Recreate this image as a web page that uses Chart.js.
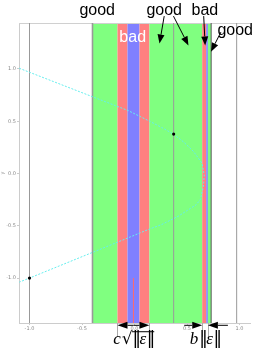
<!DOCTYPE html>
<html><head><meta charset="utf-8">
<script src="https://cdn.jsdelivr.net/npm/chart.js@4/dist/chart.umd.min.js"></script>
<style>html,body{margin:0;padding:0;background:#fff;overflow:hidden}#wrap{width:256px;height:354px;position:relative}</style>
</head><body><div id="wrap"><canvas id="c" width="256" height="354"></canvas></div>
<script>
// ---- data ----
const xTicks = [-1.0, -0.5, 0.0, 0.5, 1.0];
const yTicks = [-1.0, -0.5, 0.0, 0.5, 1.0];
const bandStart = [-0.40, -0.162, -0.067, 0.048, 0.142, 0.645, 0.683, 0.699];
const bandEnd   = [-0.162, -0.067, 0.048, 0.142, 0.645, 0.683, 0.699, 0.730];
const bandKind  = ['good', 'bad', 'core', 'bad', 'good', 'bad', 'core', 'good'];
const vLineX = [-1.0, -0.40, 0.373, 0.730, 0.973];
const curveX = [-1.098, -0.396, -0.06, 0.15, 0.26, 0.371, 0.47, 0.562, 0.642, 0.664, 0.657, 0.626, 0.588, 0.416, 0.257, 0.130, -0.060, -0.403, -1.0, -1.098];
const curveY = [1.007, 0.733, 0.602, 0.497, 0.44, 0.377, 0.30, 0.211, 0.100, -0.011, -0.123, -0.250, -0.298, -0.409, -0.489, -0.536, -0.615, -0.756, -1.0, -1.039];
const dotX = [-1.0, 0.373];
const dotY = [-1.0, 0.377];
const needleX = [-0.01];
const needleFromY = [-1.0];
const labelText = ['good', 'good', 'bad', 'good', 'bad'];
const labelX = [-0.355, 0.283, 0.670, 0.959, -0.017];
const labelY = [1.515, 1.515, 1.515, 1.324, 1.262];
const arrowFromX = [0.283, 0.371, 0.659, 0.823];
const arrowFromY = [1.506, 1.506, 1.506, 1.353];
const arrowToX   = [0.238, 0.514, 0.673, 0.728];
const arrowToY   = [1.244, 1.225, 1.225, 1.165];
const dimY = -1.452;
const dimTextY = -1.633;

// ---- styles ----
const kindColor = {good: '#80ff80', bad: '#ff8080', core: '#8080ff'};
const X_MIN = -1.1, X_MAX = 1.1, Y_MIN = -1.43, Y_MAX = 1.44;
const F_IT = 'italic 17px "Liberation Serif", serif';
const F_BAR = '17px "DejaVu Sans", sans-serif';
const F_RAD = '17px "DejaVu Sans", sans-serif';

const datasets = [];
datasets.push({data: dotX.map((x, i) => ({x, y: dotY[i]})), showLine: false, pointRadius: 1.6, pointBackgroundColor: '#000', pointBorderWidth: 0});
datasets.push({data: curveX.map((x, i) => ({x, y: curveY[i]})), showLine: true, borderColor: '#66eeee', borderWidth: 1, borderDash: [2, 1.5], pointRadius: 0, tension: 0});
vLineX.forEach((x, i) => {
  datasets.push({data: [{x, y: Y_MIN}, {x, y: Y_MAX}], showLine: true, pointRadius: 0,
    borderColor: i === 3 ? '#555' : '#999', borderWidth: i === 1 ? 1.6 : 1});
});

function arrow(ctx, x1, y1, x2, y2, hl, hw) {
  const a = Math.atan2(y2 - y1, x2 - x1);
  const bx = x2 - hl * Math.cos(a), by = y2 - hl * Math.sin(a);
  ctx.beginPath(); ctx.moveTo(x1, y1); ctx.lineTo(bx, by); ctx.stroke();
  ctx.beginPath(); ctx.moveTo(x2, y2);
  ctx.lineTo(bx + hw / 2 * Math.sin(a), by - hw / 2 * Math.cos(a));
  ctx.lineTo(bx - hw / 2 * Math.sin(a), by + hw / 2 * Math.cos(a));
  ctx.closePath(); ctx.fill();
}

// draw a sequence of text pieces centered at cx; returns piece x positions
function pieces(ctx, list, cx, by) {
  const ws = list.map(p => { ctx.font = p.f; return ctx.measureText(p.t).width + (p.gap || 0); });
  const tot = ws.reduce((a, b) => a + b, 0);
  let sx = cx - tot / 2; const xs = [];
  list.forEach((p, i) => { ctx.font = p.f; ctx.fillText(p.t, sx, by); xs.push(sx); sx += ws[i]; });
  xs.push(sx);
  return xs;
}

const decor = {
  id: 'decor',
  beforeDatasetsDraw(chart) {
    const {ctx, chartArea: ca, scales: {x, y}} = chart;
    ctx.save();
    bandStart.forEach((s, i) => {
      const a = x.getPixelForValue(s), b = x.getPixelForValue(bandEnd[i]);
      ctx.fillStyle = kindColor[bandKind[i]];
      ctx.fillRect(a, ca.top, b - a, ca.bottom - ca.top);
    });
    ctx.strokeStyle = '#ff6a6a'; ctx.lineWidth = 1;
    needleX.forEach((nx, i) => {
      const px = x.getPixelForValue(nx);
      ctx.beginPath(); ctx.moveTo(px, y.getPixelForValue(needleFromY[i])); ctx.lineTo(px, ca.bottom); ctx.stroke();
    });
    ctx.strokeStyle = '#d0d0d0'; ctx.lineWidth = 1;
    ctx.beginPath(); ctx.moveTo(ca.left, ca.top + 0.5); ctx.lineTo(ca.right, ca.top + 0.5); ctx.stroke();
    ctx.restore();
  },
  afterDraw(chart) {
    const {ctx, scales: {x, y}} = chart;
    ctx.save();
    ctx.textAlign = 'center'; ctx.textBaseline = 'alphabetic';
    ctx.font = '16px "Liberation Sans", Arial, sans-serif';
    labelText.forEach((t, i) => {
      ctx.fillStyle = i === 4 ? '#fff' : '#000';
      ctx.fillText(t, x.getPixelForValue(labelX[i]), y.getPixelForValue(labelY[i]));
    });
    ctx.strokeStyle = '#000'; ctx.fillStyle = '#000'; ctx.lineWidth = 1;
    arrowFromX.forEach((fx, i) => {
      arrow(ctx, x.getPixelForValue(fx), y.getPixelForValue(arrowFromY[i]),
        x.getPixelForValue(arrowToX[i]), y.getPixelForValue(arrowToY[i]), 9, 7);
    });
    // dimension markers
    const py = y.getPixelForValue(dimY);
    const bottom = chart.chartArea.bottom;
    const e1 = [bandStart[1], bandEnd[3], bandStart[5], bandEnd[6]];
    ctx.strokeStyle = '#aaa';
    e1.forEach(v => {
      const px = Math.round(x.getPixelForValue(v)) + 0.5;
      ctx.beginPath(); ctx.moveTo(px, bottom); ctx.lineTo(px, bottom + 14); ctx.stroke();
    });
    ctx.strokeStyle = '#000';
    const cMid = x.getPixelForValue((bandStart[1] + bandEnd[3]) / 2);
    arrow(ctx, cMid, py, x.getPixelForValue(bandStart[1]), py, 10, 7);
    arrow(ctx, cMid, py, x.getPixelForValue(bandEnd[3]), py, 10, 7);
    const l = x.getPixelForValue(bandStart[5]), r = x.getPixelForValue(bandEnd[6]);
    arrow(ctx, l - 18, py, l, py, 10, 7);
    arrow(ctx, r + 20, py, r, py, 10, 7);
    // dimension texts
    const ty = y.getPixelForValue(dimTextY);
    ctx.textAlign = 'left';
    const xs = pieces(ctx, [
      {t: 'c', f: F_IT, gap: 1}, {t: '√', f: F_RAD}, {t: '‖', f: F_BAR, gap: -1.5},
      {t: 'ε', f: F_IT, gap: 0.5}, {t: '‖', f: F_BAR, gap: -1.5}], cMid, ty);
    ctx.beginPath(); ctx.lineWidth = 1;
    ctx.moveTo(xs[2] - 0.5, ty - 12.5); ctx.lineTo(xs[5] + 0.5, ty - 12.5); ctx.stroke();
    pieces(ctx, [
      {t: 'b', f: F_IT, gap: 1}, {t: '‖', f: F_BAR, gap: -1.5},
      {t: 'ε', f: F_IT, gap: 0.5}, {t: '‖', f: F_BAR, gap: -1.5}], (l + r) / 2, ty);
    ctx.restore();
  }
};

new Chart(document.getElementById('c'), {
  type: 'scatter',
  data: {datasets},
  options: {
    responsive: false, animation: false, devicePixelRatio: 1,
    layout: {padding: {top: 23, right: 6, left: 0, bottom: 0}},
    plugins: {legend: {display: false}, tooltip: {enabled: false}},
    scales: {
      x: {type: 'linear', min: X_MIN, max: X_MAX,
        afterBuildTicks: s => { s.ticks = xTicks.map(v => ({value: v})); },
        ticks: {font: {size: 5, family: 'DejaVu Sans'}, color: '#888', padding: 1, maxRotation: 0, autoSkip: false, callback: v => v.toFixed(1)},
        grid: {display: true, drawOnChartArea: false, drawTicks: true, tickLength: 2, color: '#ccc'},
        border: {display: true, color: '#ccc'},
        afterFit: s => { s.height = 31; }},
      y: {type: 'linear', min: Y_MIN, max: Y_MAX,
        afterBuildTicks: s => { s.ticks = yTicks.map(v => ({value: v})); },
        ticks: {font: {size: 5, family: 'DejaVu Sans'}, color: '#888', padding: 1, autoSkip: false, callback: v => v.toFixed(1)},
        title: {display: true, text: 'y', font: {size: 5, family: 'DejaVu Sans'}, color: '#888', padding: 0},
        grid: {display: true, drawOnChartArea: false, drawTicks: true, tickLength: 2, color: '#ccc'},
        border: {display: true, color: '#ccc'},
        afterFit: s => { s.width = 19; }}
    }
  },
  plugins: [decor]
});
</script></body></html>
